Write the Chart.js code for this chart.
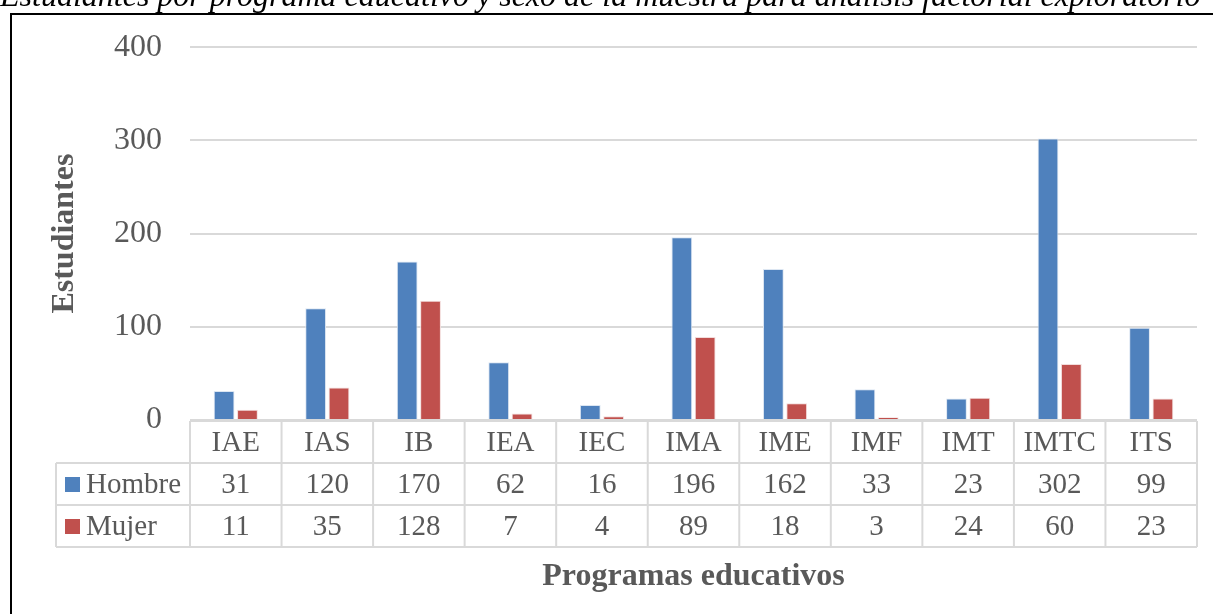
<!DOCTYPE html>
<html>
<head>
<meta charset="utf-8">
<script src="https://cdn.jsdelivr.net/npm/chart.js@4/dist/chart.umd.min.js"></script>
<style>
  html, body { margin: 0; padding: 0; background: #fff; }
  #wrap { position: relative; width: 1213px; height: 614px; }
</style>
</head>
<body>
<div id="wrap"><canvas id="stats-chart" width="1213" height="614"></canvas></div>
<script>
const programas = ["IAE", "IAS", "IB", "IEA", "IEC", "IMA", "IME", "IMF", "IMT", "IMTC", "ITS"];
const hombres = [31, 120, 170, 62, 16, 196, 162, 33, 23, 302, 99];
const mujeres = [11, 35, 128, 7, 4, 89, 18, 3, 24, 60, 23];
const yTicks = [0, 100, 200, 300, 400];

const TEXT = "#595959";
const LINE = "#D9D9D9";
const SERIF = "'Liberation Serif', 'Times New Roman', serif";

// caption above the frame plus the black frame itself
const framePlugin = {
  id: "frame",
  beforeDraw(chart) {
    const ctx = chart.ctx;
    ctx.save();
    ctx.fillStyle = "#000";
    ctx.font = "italic 32px " + SERIF;
    ctx.textBaseline = "alphabetic";
    ctx.textAlign = "left";
    ctx.fillText("Estudiantes por programa educativo y sexo de la muestra para análisis factorial exploratorio", 0, 6);
    ctx.strokeStyle = "#000";
    ctx.lineWidth = 2;
    ctx.beginPath();
    ctx.moveTo(11, 614);
    ctx.lineTo(11, 14);
    ctx.lineTo(1213, 14);
    ctx.stroke();
    ctx.restore();
  }
};

// data table under the plot, columns follow the category scale
const tablePlugin = {
  id: "dataTable",
  afterDraw(chart) {
    const ctx = chart.ctx;
    const x = chart.scales.x;
    const area = chart.chartArea;
    const n = programas.length;
    const colW = (area.right - area.left) / n;
    const rowH = 42;
    const top = area.bottom + 1;
    const legendLeft = 56;
    const series = [
      { name: "Hombre", values: hombres, color: chart.data.datasets[0].backgroundColor },
      { name: "Mujer", values: mujeres, color: chart.data.datasets[1].backgroundColor }
    ];

    ctx.save();
    ctx.strokeStyle = LINE;
    ctx.lineWidth = 2;
    ctx.beginPath();
    // horizontal rules
    ctx.moveTo(area.left, top);
    ctx.lineTo(area.right, top);
    for (let r = 1; r <= 3; r++) {
      ctx.moveTo(legendLeft, top + r * rowH);
      ctx.lineTo(area.right, top + r * rowH);
    }
    // vertical rules
    for (let i = 0; i <= n; i++) {
      const px = area.left + i * colW;
      ctx.moveTo(px, top);
      ctx.lineTo(px, top + 3 * rowH);
    }
    ctx.moveTo(legendLeft, top + rowH);
    ctx.lineTo(legendLeft, top + 3 * rowH);
    ctx.stroke();

    ctx.fillStyle = TEXT;
    ctx.font = "29px " + SERIF;
    ctx.textAlign = "center";
    ctx.textBaseline = "middle";
    programas.forEach((p, i) => {
      ctx.fillText(p, x.getPixelForValue(i), top + rowH / 2 + 1);
    });
    series.forEach((s, r) => {
      const cy = top + (r + 1.5) * rowH + 1;
      s.values.forEach((v, i) => {
        ctx.fillStyle = TEXT;
        ctx.fillText(String(v), x.getPixelForValue(i), cy);
      });
      ctx.fillStyle = s.color;
      ctx.fillRect(65, cy - 8, 15, 15);
      ctx.fillStyle = TEXT;
      ctx.textAlign = "left";
      ctx.fillText(s.name, 86, cy);
      ctx.textAlign = "center";
    });

    ctx.font = "bold 32px " + SERIF;
    ctx.fillText("Programas educativos", (area.left + area.right) / 2, 577);
    ctx.restore();
  }
};

new Chart("stats-chart", {
  type: "bar",
  data: {
    labels: programas,
    datasets: [
      {
        label: "Hombre",
        data: hombres,
        backgroundColor: "#4F81BD",
        borderColor: "#DCE6F2",
        borderWidth: 1,
        categoryPercentage: 0.51,
        barPercentage: 0.89
      },
      {
        label: "Mujer",
        data: mujeres,
        backgroundColor: "#C0504D",
        borderColor: "#F2DCDB",
        borderWidth: 1,
        categoryPercentage: 0.51,
        barPercentage: 0.89
      }
    ]
  },
  options: {
    responsive: false,
    animation: false,
    layout: { padding: { left: 0, right: 16, top: 44, bottom: 194 } },
    plugins: {
      legend: { display: false },
      tooltip: { enabled: false }
    },
    scales: {
      x: { display: false },
      y: {
        min: 0,
        max: 400,
        afterBuildTicks(scale) {
          scale.ticks = yTicks.map(v => ({ value: v }));
        },
        afterFit(scale) {
          scale.width = 190;
        },
        border: { display: false },
        grid: { color: LINE, lineWidth: 2, drawTicks: false },
        ticks: {
          color: TEXT,
          padding: 28,
          font: { family: SERIF, size: 32 }
        },
        title: {
          display: true,
          text: "Estudiantes",
          color: TEXT,
          font: { family: SERIF, size: 32, weight: "bold" },
          padding: { top: 46, bottom: 0 }
        }
      }
    }
  },
  plugins: [framePlugin, tablePlugin]
});
</script>
</body>
</html>
